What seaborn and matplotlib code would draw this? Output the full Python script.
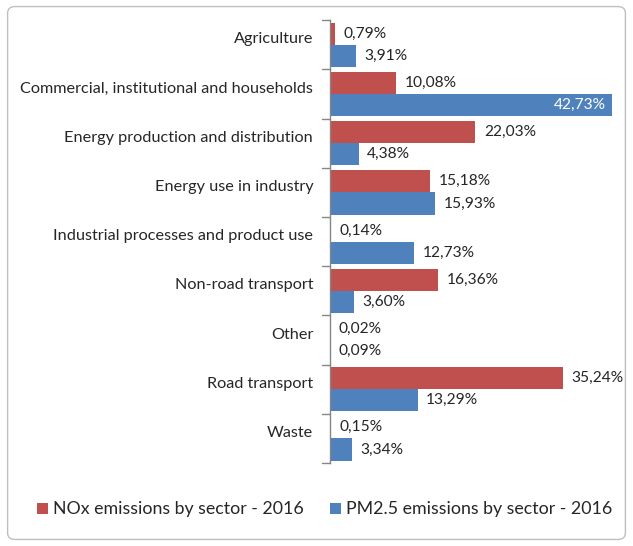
import matplotlib
matplotlib.use("Agg")
import matplotlib.pyplot as plt
import matplotlib.transforms as mtransforms
from matplotlib.patches import FancyBboxPatch
import pandas as pd
import seaborn as sns

sectors = [
    "Agriculture",
    "Commercial, institutional and households",
    "Energy production and distribution",
    "Energy use in industry",
    "Industrial processes and product use",
    "Non-road transport",
    "Other",
    "Road transport",
    "Waste",
]
nox_2016 = [0.79, 10.08, 22.03, 15.18, 0.14, 16.36, 0.02, 35.24, 0.15]
pm25_2016 = [3.91, 42.73, 4.38, 15.93, 12.73, 3.60, 0.09, 13.29, 3.34]
series_names = ["NOx emissions by sector - 2016", "PM2.5 emissions by sector - 2016"]
series_colors = ["#C0504D", "#4F81BD"]

df = pd.DataFrame({
    "sector": sectors * 2,
    "share": nox_2016 + pm25_2016,
    "series": [series_names[0]] * len(sectors) + [series_names[1]] * len(sectors),
})

sns.set_style("white")
plt.rcParams["font.family"] = ["Lato", "DejaVu Sans"]

fig = plt.figure(figsize=(6.33, 5.46), dpi=100)
ax = fig.add_axes([0.521, 0.152, 0.466, 0.811])

sns.barplot(data=df, y="sector", x="share", hue="series", orient="h",
            palette=series_colors, width=0.9, saturation=1, ax=ax,
            edgecolor="none", errorbar=None)

ax.set_xlim(0, 44.6)
ax.set_ylim(len(sectors) - 0.5, -0.5)
ax.set_xlabel("")
ax.set_ylabel("")
ax.set_xticks([])
for side in ["top", "right", "bottom"]:
    ax.spines[side].set_visible(False)
ax.spines["left"].set_color("#868686")
ax.spines["left"].set_linewidth(1.0)

# category labels sit slightly above the group centre, tick marks between groups
ax.set_yticks(range(len(sectors)))
ax.set_yticklabels(sectors, fontsize=11.7, color="#262626")
ax.tick_params(axis="y", length=0, pad=12)
shift = mtransforms.ScaledTranslation(0, 7 / 100, fig.dpi_scale_trans)
for lbl in ax.get_yticklabels():
    lbl.set_transform(lbl.get_transform() + shift)
for b in [i - 0.5 for i in range(len(sectors) + 1)]:
    ax.plot([-0.028, 0], [b, b], transform=ax.get_yaxis_transform(),
            color="#868686", lw=1.0, clip_on=False)

def fmt(v):
    return f"{v:.2f}".replace(".", ",") + "%"

xmax = ax.get_xlim()[1]
for container, values in zip(ax.containers, [nox_2016, pm25_2016]):
    for rect, v in zip(container.patches, values):
        y = rect.get_y() + rect.get_height() / 2
        if v > 0.9 * xmax:
            ax.annotate(fmt(v), (v, y), xytext=(-5, 0), textcoords="offset points",
                        ha="right", va="center", color="white", fontsize=11.2)
        else:
            ax.annotate(fmt(v), (v, y), xytext=(6, 0), textcoords="offset points",
                        ha="left", va="center", color="#262626", fontsize=11.2)

leg = ax.legend(loc="center", bbox_to_anchor=(0.513, 0.067), bbox_transform=fig.transFigure,
                ncol=2, frameon=False, fontsize=12.8, handlelength=0.6, handleheight=0.6,
                handletextpad=0.3, columnspacing=1.5)
for t in leg.get_texts():
    t.set_color("#262626")

border = FancyBboxPatch((0.012, 0.012), 0.976, 0.976, boxstyle="round,pad=0,rounding_size=0.012",
                        transform=fig.transFigure, facecolor="none", edgecolor="#BFBFBF",
                        linewidth=1.0)
fig.patches.append(border)

fig.savefig("out.png", dpi=100)
